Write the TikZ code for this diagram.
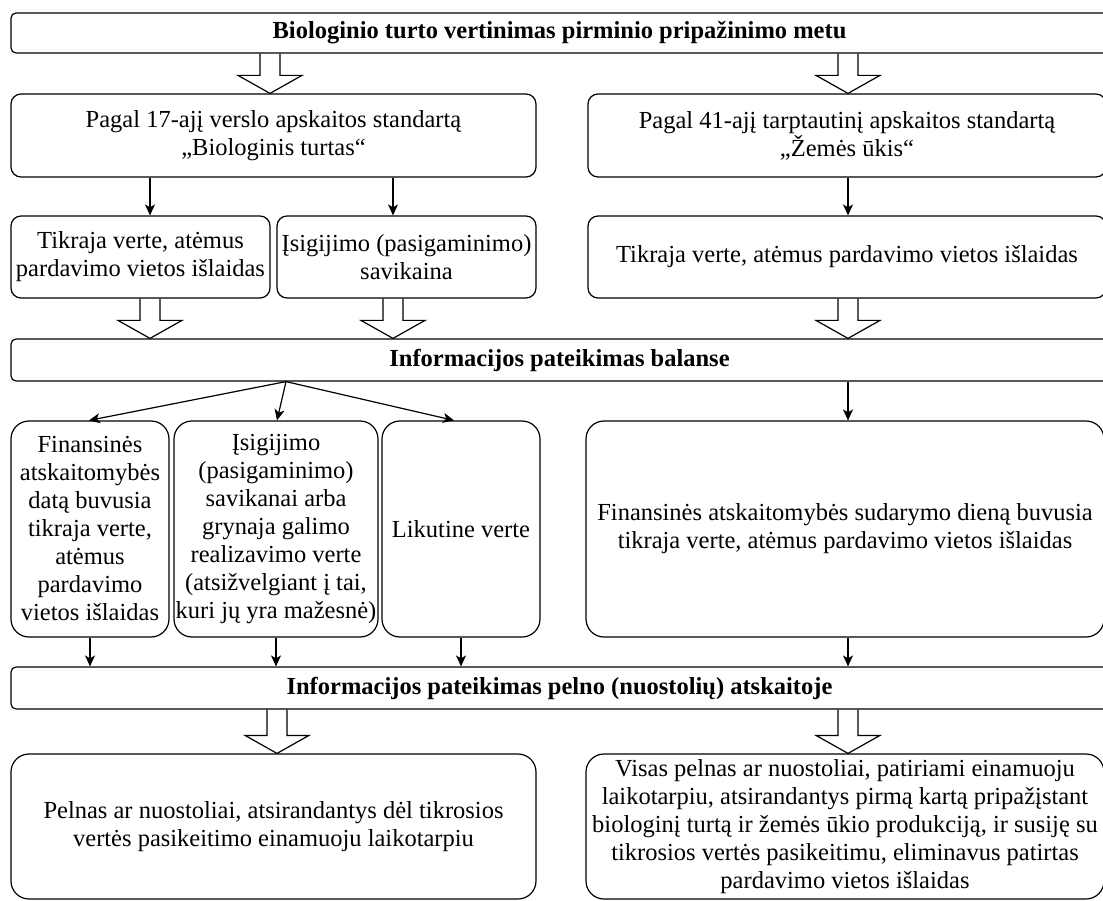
\documentclass[tikz,border=0pt]{standalone}
\usepackage{fontspec}
\setmainfont{Liberation Serif}
\usetikzlibrary{arrows.meta,calc}
\tikzset{
  box/.style={draw=black, line width=1.2pt, align=center, inner sep=0pt,
    font=\fontsize{24.5}{28}\selectfont},
  flat/.style={box, rounded corners=5pt},
  mid/.style={box, rounded corners=10pt},
  big/.style={box, rounded corners=18pt},
  arr/.style={draw=black, line width=1.2pt, -{Stealth[length=11pt,width=10pt,inset=3pt]}},
  blk/.style={draw=black, line width=1.2pt, line join=miter}
}
\newcommand\barrow[2]{\draw[blk] let \p1=(#1), \p2=(#2) in
  (\x1-10pt,\y1) -- (\x1-10pt,\y2+18pt) -- (\x1-32pt,\y2+18pt) -- (\x1,\y2)
  -- (\x1+32pt,\y2+18pt) -- (\x1+10pt,\y2+18pt) -- (\x1+10pt,\y1);}
\begin{document}
\begin{tikzpicture}[x=1pt,y=-1pt]
\useasboundingbox (0,0) rectangle (1103,901);
% helper x positions
\coordinate (c89) at (89,0);
\coordinate (c150) at (150,0);
\coordinate (c270) at (270,0);
\coordinate (c277) at (277,0);
\coordinate (c286) at (286,0);
\coordinate (c393) at (393,0);
\coordinate (c454) at (454,0);
\coordinate (c848) at (848,0);
% nodes
\node[flat, minimum width=1097pt, minimum height=40pt] (top) at (559.5,33)
  {\textbf{Biologinio turto vertinimas pirminio pripažinimo metu}};
\node[mid, minimum width=525pt, minimum height=83pt] (p17) at (273.5,135.5)
  {Pagal 17-ajį verslo apskaitos standartą\\„Biologinis turtas“};
\node[mid, minimum width=518pt, minimum height=83pt] (p41) at (847,135.5)
  {Pagal 41-ajį tarptautinį apskaitos standartą\\„Žemės ūkis“};
\node[mid, minimum width=259pt, minimum height=82pt] (t1) at (140.5,257)
  {Tikraja verte, atėmus\\pardavimo vietos išlaidas};
\node[mid, minimum width=259pt, minimum height=82pt] (t2) at (406.5,257)
  {Įsigijimo (pasigaminimo)\\savikaina};
\node[mid, minimum width=518pt, minimum height=82pt] (t3) at (847,257)
  {Tikraja verte, atėmus pardavimo vietos išlaidas};
\node[flat, minimum width=1097pt, minimum height=42pt] (bal) at (559.5,360)
  {\textbf{Informacijos pateikimas balanse}};
\node[big, minimum width=158pt, minimum height=216pt] (f1) at (90,529)
  {Finansinės\\atskaitomybės\\datą buvusia\\tikraja verte,\\atėmus\\pardavimo\\vietos išlaidas};
\node[big, minimum width=204pt, minimum height=216pt] (f2) at (276,529)
  {Įsigijimo\\(pasigaminimo)\\savikanai arba\\grynaja galimo\\realizavimo verte\\(atsižvelgiant į tai,\\kuri jų yra mažesnė)};
\node[big, minimum width=158pt, minimum height=216pt] (f3) at (461,529)
  {Likutine verte};
\node[big, minimum width=518pt, minimum height=216pt] (f4) at (845,529)
  {Finansinės atskaitomybės sudarymo dieną buvusia\\tikraja verte, atėmus pardavimo vietos išlaidas};
\node[flat, minimum width=1097pt, minimum height=42pt] (pel) at (559.5,688)
  {\textbf{Informacijos pateikimas pelno (nuostolių) atskaitoje}};
\node[big, minimum width=525pt, minimum height=145pt] (b1) at (273.5,826.5)
  {Pelnas ar nuostoliai, atsirandantys dėl tikrosios\\vertės pasikeitimo einamuoju laikotarpiu};
\node[big, minimum width=518pt, minimum height=145pt] (b2) at (845,826.5)
  {Visas pelnas ar nuostoliai, patiriami einamuoju\\laikotarpiu, atsirandantys pirmą kartą pripažįstant\\biologinį turtą ir žemės ūkio produkciją, ir susiję su\\tikrosios vertės pasikeitimu, eliminavus patirtas\\pardavimo vietos išlaidas};
% block arrows
\barrow{c270 |- top.south}{c270 |- p17.north}
\barrow{c848 |- top.south}{c848 |- p41.north}
\barrow{c150 |- t1.south}{c150 |- bal.north}
\barrow{c393 |- t2.south}{c393 |- bal.north}
\barrow{c848 |- t3.south}{c848 |- bal.north}
\barrow{c277 |- pel.south}{c277 |- b1.north}
\barrow{c848 |- pel.south}{c848 |- b2.north}
% thin arrows
\draw[arr] (c150 |- p17.south) -- (c150 |- t1.north);
\draw[arr] (c393 |- p17.south) -- (c393 |- t2.north);
\draw[arr] (c848 |- p41.south) -- (c848 |- t3.north);
\draw[arr] (c286 |- bal.south) -- (c89 |- f1.north);
\draw[arr] (c286 |- bal.south) -- (c277 |- f2.north);
\draw[arr] (c286 |- bal.south) -- (c454 |- f3.north);
\draw[arr] (c848 |- bal.south) -- (c848 |- f4.north);
\draw[arr] (f1.south) -- (f1.south |- pel.north);
\draw[arr] (f2.south) -- (f2.south |- pel.north);
\draw[arr] (f3.south) -- (f3.south |- pel.north);
\draw[arr] (c848 |- f4.south) -- (c848 |- pel.north);
\end{tikzpicture}
\end{document}
